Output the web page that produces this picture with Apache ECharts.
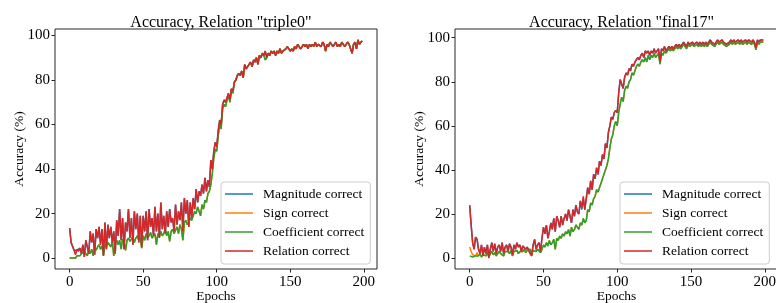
<!DOCTYPE html>
<html>
<head>
<meta charset="utf-8">
<script src="https://cdn.jsdelivr.net/npm/echarts@6/dist/echarts.min.js"></script>
<style>
  html, body { margin: 0; padding: 0; background: #fff; }
  #chart { width: 776px; height: 303px; }
</style>
</head>
<body>
<div id="chart"></div>
<script>
// epochs 0..199
const epochs = Array.from({ length: 200 }, (_, i) => i)
const xTicks = [0, 50, 100, 150, 200]
const yTicks = [0, 20, 40, 60, 80, 100]
const seriesNames = ['Magnitude correct', 'Sign correct', 'Coefficient correct', 'Relation correct']
const seriesColors = ['#1f77b4', '#ff7f0e', '#2ca02c', '#d62728']
const titles = ['Accuracy, Relation "triple0"', 'Accuracy, Relation "final17"']

// --- relation "triple0" ---
const triple0Magnitude = [
  13.5,7,6.5,3.5,3,3.5,3.5,4.5,2,6,
  0.5,8,5,2,12,7,11,1.5,13,9,
  14,6,13,1,16,4,15,9,14,7,
  12,2,17,10,22,8,18,4,16,12,
  22,9,18,6,21,13,20,7,19,5,
  19,12,21,8,22,14,18,10,23,12,
  20,9,25,13,19,11,21,14,22,16,
  18,12,24,15,21,17,25,12,27,20,
  26,14,25,18,27,22,31,25,30,28,
  33,29,36,30,35,32,44,40,48,52,
  50,57,62,60,69,71,70,72,74,71,
  76,75,79,80,82,83,82,84,81,87,
  85,86,87,88,86,89,88,90,87,91,
  90,92,91,93,90,92,91,93,92,93,
  91,93,92,94,92,93,93,94,95,94,
  93,94,93,95,94,96,95,94,95,96,
  95,96,94,96,95,96,95,97,95,96,
  96,95,97,96,93,96,95,97,96,95,
  96,97,95,96,95,97,96,95,96,97,
  96,96,92,96,97,94,98,96,97,97.5
]
const triple0Sign = [
  0,0,0,0,0,1,1.5,1,2,1.5,
  3,2,1,3.5,2,4,1,5,3.5,5,
  6,4,5.5,1.5,6,5,7,6,5,7.5,
  1,7,8,6,8,4,8.5,7,3.5,8,
  9,7.5,8,9.5,7,9,10,8,9.5,4.5,
  10,8,11,9,10,11.5,9,10,11,6,
  11,9.5,12,10,11,13,10,12,7.5,12,
  13,11,12.5,14,11,15,13,8,16,17,
  15,16,18,17,19,21,20,23,21,19,
  24,22,26,25,29,30,33,38,45,49,
  48,55,60,58,67,69,68,71,73,70,
  76,74,79,80,82,83,82,84,81,86,
  85,86,87,88,86,88,88,90,87,91,
  90,92,91,89,90,92,91,93,92,93,
  91,93,92,94,92,93,93,94,95,94,
  93,94,93,95,94,96,95,94,95,96,
  95,96,94,96,95,96,95,97,95,96,
  96,95,97,96,93,96,95,97,96,95,
  96,97,95,96,95,97,96,95,96,97,
  96,96,92,96,97,94,98,96,97,97.5
]
const triple0Coefficient = [
  0,0,0,0,0,1,1.5,1,2,1.5,
  3,2,1,3.5,2,4,1,5,3.5,5,
  6,4,5.5,1.5,6,5,7,6,5,7.5,
  1,7,8,6,8,4,8.5,7,3.5,8,
  9,7.5,8,9.5,7,9,10,8,9.5,4.5,
  10,8,11,9,10,11.5,9,10,11,6,
  11,9.5,12,10,11,13,10,12,7.5,12,
  13,11,12.5,14,11,15,13,8,16,17,
  15,16,18,17,19,21,20,23,21,19,
  24,22,26,25,29,30,33,38,45,49,
  48,55,60,58,67,69,68,71,73,70,
  76,74,79,80,82,83,82,84,81,86,
  85,86,87,88,86,88,88,90,87,91,
  90,92,91,89,90,92,91,93,92,93,
  91,93,92,94,92,93,93,94,95,94,
  93,94,93,95,94,96,95,94,95,96,
  95,96,94,96,95,96,95,97,95,96,
  96,95,97,96,93,96,95,97,96,95,
  96,97,95,96,95,97,96,95,96,97,
  96,96,92,96,97,94,98,96,97,97.5
]
const triple0Relation = [
  13.5,7,6.5,3.5,1.5,4,3,4.5,2,6,
  0.5,8,5,2,12,7,11,1.5,13,9,
  14,6,13,1,16,4,15,9,14,7,
  12,2,17,10,22,8,18,4,16,12,
  22,9,18,6,21,13,20,7,19,5,
  19,12,21,8,22,14,18,10,23,12,
  20,9,25,13,19,11,21,14,22,16,
  18,12,24,15,21,17,25,12,27,20,
  26,14,25,18,27,22,31,25,30,28,
  33,29,36,30,35,32,44,40,48,52,
  50,57,62,60,69,71,70,72,74,71,
  76,75,79,80,82,83,82,84,81,87,
  85,86,87,88,86,89,88,90,87,91,
  90,92,91,93,90,92,91,93,92,93,
  91,93,92,94,92,93,93,94,95,94,
  93,94,93,95,94,96,95,94,95,96,
  95,96,94,96,95,96,95,97,95,96,
  96,95,97,96,93,96,95,97,96,95,
  96,97,95,96,95,97,96,95,96,97,
  96,96,92,96,97,94,98,96,97,97.5
]

// --- relation "final17" ---
const final17Magnitude = [
  24,15,7,4,9.5,8.5,4,2,6,1,
  5,2,6,1,4,7,3,6.5,2,5,
  6,3,7,2,5,6,3,6.5,5,1.5,
  6,4,7,5,6,3,5.5,6,4,5,
  4.5,2,1,6,8.5,4,6,7,3,9,
  14,11,15,9,12,16,13,18,12,19,
  17,14,19,15,18,20,17,22,19,16,
  22,19,24,21,20,26,22,27,22,27,
  32,29,35,31,38,36,41,38,44,42,
  47,45,52,50,57,60,64,63,66,67,
  66,75,81,79,77,82,84,83,86,85,
  88,87,89,90,91,90,92,93,91,94,
  93,94,92,94,93,95,93,94,95,89,
  95,94,96,94,95,96,95,96,95,96,
  97,96,97,96,97,98,97,96,98,97,
  97,98,97,97,98,97,98,97,98,97,
  98,97,98,99,98,98,97,98,99,98,
  98,99,98,98,97,96.5,98,99,98,99,
  98,98,99,98,99,98,98,99,98,99,
  99,98,99,98,95.5,99,98,99,98.5,99
]
const final17Sign = [
  5,3,1.5,2,1,2.5,1,2,0.5,1.5,
  2,1,2.5,0.5,2,3,1.5,2.5,1,2,
  3,2,2.5,1,3,2.5,3,2,3.5,1,
  3,2.5,3.5,2,3,3.5,3,4,2.5,3.5,
  3,4,1.5,3.5,4,3,4,3.5,2.5,4,
  6,5,7,5.5,8,6,7,8.5,4,9,
  8,10,9,11,10,12,11,13,10,14,
  12,13,15,14,13,16,15,18,16,17,
  22,21,25,24,27,28,31,30,32,34,
  36,38,40,42,45,50,54,56,60,62,
  60,66,70,73,71,76,78,77,80,81,
  84,83,85,87,88,87,89,90,89,91,
  89,92,90,92,91,93,91,92,93,88,
  93,92,94,93,94,95,94,95,94,95,
  96,95,96,95,96,97,96,95,97,96,
  96,97,96,96,97,96,97,96,97,96,
  97,96,97,98,97,97,96,97,98,97,
  97,98,97,97,96,95.5,97,98,97,98,
  97,97,98,97,98,97,97,98,97,98,
  98,97,98,97,94.5,98,97,98,97.5,98
]
const final17Coefficient = [
  1,0.5,0.5,0.5,1,1.5,1,2,0.5,1.5,
  2,1,2.5,0.5,2,3,1.5,2.5,1,2,
  3,2,2.5,1,3,2.5,3,2,3.5,1,
  3,2.5,3.5,2,3,3.5,3,4,2.5,3.5,
  3,4,1.5,3.5,4,3,4,3.5,2.5,4,
  6,5,7,5.5,8,6,7,8.5,4,9,
  8,10,9,11,10,12,11,13,10,14,
  12,13,15,14,13,16,15,18,16,17,
  22,21,25,24,27,28,31,30,32,34,
  36,38,40,42,45,50,54,56,60,62,
  60,66,70,73,71,76,78,77,80,81,
  84,83,85,87,88,87,89,90,89,91,
  89,92,90,92,91,93,91,92,93,88,
  93,92,94,93,94,95,94,95,94,95,
  96,95,96,95,96,97,96,95,97,96,
  96,97,96,96,97,96,97,96,97,96,
  97,96,97,98,97,97,96,97,98,97,
  97,98,97,97,96,95.5,97,98,97,98,
  97,97,98,97,98,97,97,98,97,98,
  98,97,98,97,94.5,98,97,98,97.5,98
]
const final17Relation = [
  24,15,7,4,9.5,8.5,4,2,6,1,
  5,2,6,0,4,7,3,6.5,2,5,
  6,3,7,2,5,6,3,6.5,5,1.5,
  6,4,7,5,6,3,5.5,6,4,5,
  4.5,2,1,6,8.5,4,6,7,3,9,
  14,11,15,9,12,16,13,18,12,19,
  17,14,19,15,18,20,17,22,19,16,
  22,19,24,21,20,26,23,28,22,27,
  32,29,35,31,38,36,41,38,44,42,
  47,45,52,50,57,60,64,63,66,67,
  66,75,81,79,77,82,84,83,86,85,
  88,87,89,90,91,90,92,93,91,94,
  93,94,92,94,93,95,93,94,95,89,
  95,94,96,94,95,96,95,96,95,96,
  97,96,97,96,97,98,97,96,98,97,
  97,98,97,97,98,97,98,97,98,97,
  98,97,98,99,98,98,97,98,99,98,
  98,99,98,98,97,96.5,98,99,98,99,
  98,98,99,98,99,98,98,99,98,99,
  99,98,99,98,95.5,99,98,99,98.5,99
]

const panels = [
  [triple0Magnitude, triple0Sign, triple0Coefficient, triple0Relation],
  [final17Magnitude, final17Sign, final17Coefficient, final17Relation]
]

const FONT = 'Liberation Serif'
const AX = '#262626'
const grids = [
  { left: 55, top: 29, width: 322, height: 240 },
  { left: 455, top: 29, width: 323, height: 240 }
]

function pairs(values) {
  return epochs.map((e, i) => [e, values[i]])
}

const option = {
  backgroundColor: '#fff',
  animation: false,
  title: grids.map((g, i) => ({
    text: titles[i],
    left: g.left + g.width / 2,
    top: 10,
    textAlign: 'center',
    textStyle: { fontFamily: FONT, fontSize: 16, fontWeight: 'normal', color: '#000' }
  })),
  grid: grids.map(g => Object.assign({
    show: true, borderColor: AX, borderWidth: 1, backgroundColor: 'transparent',
    containLabel: false, outerBoundsMode: 'none'
  }, g)),
  legend: grids.map((g, i) => ({
    data: seriesNames,
    orient: 'vertical',
    left: i === 0 ? 221 : 620,
    top: 182,
    icon: 'rect',
    itemWidth: 28,
    itemHeight: 1.5,
    itemGap: 5,
    padding: [5, 6, 6, 4],
    backgroundColor: 'rgba(255,255,255,0.8)',
    borderColor: '#cccccc',
    borderWidth: 1,
    borderRadius: 3,
    textStyle: { fontFamily: FONT, fontSize: 13.5, lineHeight: 14, color: '#000', padding: [0, 0, 0, 5] }
  })),
  xAxis: grids.map((g, i) => ({
    type: 'value',
    gridIndex: i,
    min: -9.95,
    max: 208.95,
    name: 'Epochs',
    nameLocation: 'middle',
    nameGap: 20,
    nameMoveOverlap: false,
    nameTextStyle: { fontFamily: FONT, fontSize: 13.5, color: '#000' },
    axisLine: { show: false, onZero: false },
    axisTick: { show: true, inside: false, length: 3.5, customValues: xTicks, lineStyle: { color: AX } },
    axisLabel: { customValues: xTicks, margin: 6, fontFamily: FONT, fontSize: 15, color: '#000' },
    splitLine: { show: false }
  })),
  yAxis: grids.map((g, i) => ({
    type: 'value',
    gridIndex: i,
    min: i === 0 ? -4.9 : -4.95,
    max: i === 0 ? 102.9 : 103.95,
    name: 'Accuracy (%)',
    nameLocation: 'middle',
    nameRotate: 90,
    nameGap: 29,
    nameMoveOverlap: false,
    nameTextStyle: { fontFamily: FONT, fontSize: 13.5, color: '#000' },
    axisLine: { show: false, onZero: false },
    axisTick: { show: true, inside: false, length: 3.5, customValues: yTicks, lineStyle: { color: AX } },
    axisLabel: { customValues: yTicks, margin: 5, fontFamily: FONT, fontSize: 15, color: '#000' },
    splitLine: { show: false }
  })),
  series: []
}

panels.forEach((set, p) => {
  set.forEach((values, k) => {
    option.series.push({
      name: seriesNames[k],
      type: 'line',
      xAxisIndex: p,
      yAxisIndex: p,
      data: pairs(values),
      symbol: 'none',
      lineStyle: { width: 1.5, color: seriesColors[k] },
      itemStyle: { color: seriesColors[k] }
    })
  })
})

const chart = echarts.init(document.getElementById('chart'), null, { renderer: 'canvas' })
chart.setOption(option)
</script>
</body>
</html>
